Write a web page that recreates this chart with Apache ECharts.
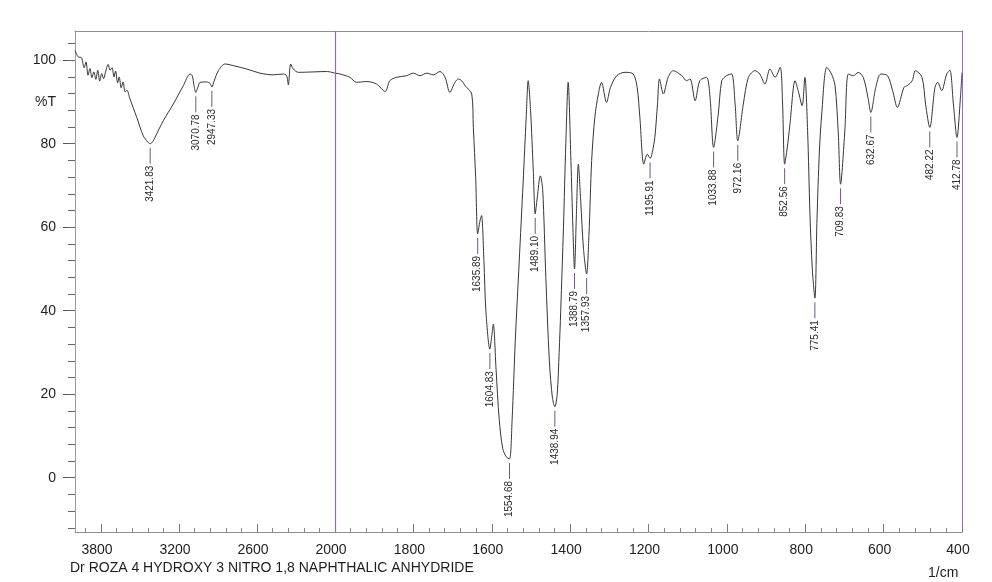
<!DOCTYPE html>
<html>
<head>
<meta charset="utf-8">
<title>IR spectrum</title>
<script src="https://cdn.jsdelivr.net/npm/echarts@6/dist/echarts.min.js"></script>
<style>
  html, body { margin: 0; padding: 0; background: #ffffff; }
  #chart { width: 992px; height: 582px; }
</style>
</head>
<body>
<div id="chart"></div>
<script>
// High wavenumber range (4000-2000 1/cm), compressed scale
const wnHigh = [4000, 3975, 3950, 3930, 3915, 3900, 3885, 3870, 3855, 3840, 3825, 3810, 3795, 3780, 3765, 3745,
  3730, 3715, 3700, 3688, 3672, 3660, 3645, 3630, 3615, 3600, 3580, 3525, 3475, 3440, 3421.83, 3400, 3385,
  3321, 3244, 3167, 3115, 3098, 3085, 3070.78, 3055, 3038, 2987, 2960, 2947.33, 2930, 2897, 2846, 2782, 2679,
  2577, 2475, 2398, 2372, 2359, 2341, 2321, 2282, 2167, 2064, 2000];
const tHigh = [102.3, 100.8, 100.6, 98.2, 99.6, 96.4, 98.0, 95.8, 97.2, 95.4, 97.6, 95.0, 96.8, 95.6, 97.2, 99.0,
  97.6, 98.2, 96.0, 97.4, 94.6, 96.0, 93.4, 94.8, 92.4, 92.8, 91.0, 86.3, 81.9, 80.4, 80.0, 80.6, 81.5,
  85.5, 89.5, 93.9, 96.7, 96.3, 94.0, 92.3, 93.5, 94.7, 94.8, 94.4, 93.6, 95.0, 97.5, 99.1, 98.7, 97.9,
  96.9, 96.5, 96.7, 96.3, 94.1, 99.1, 97.9, 97.1, 97.2, 97.3, 96.9];

// Fingerprint range (2000-400 1/cm), expanded scale
const wnLow = [2000, 1987, 1962, 1945, 1919, 1894, 1872, 1860, 1843, 1817, 1800, 1783, 1766, 1749, 1732, 1719,
  1707, 1694, 1685, 1677, 1668, 1651, 1647, 1641, 1635.89, 1630, 1626, 1620, 1615, 1604.83, 1600, 1596, 1589,
  1581, 1572, 1563, 1554.68, 1548, 1540, 1530, 1520, 1512, 1507, 1501, 1494, 1489.10, 1484, 1476, 1470, 1462,
  1453, 1445, 1438.94, 1433, 1428, 1424, 1417, 1411, 1405, 1398, 1393, 1388.79, 1384, 1379, 1373, 1366,
  1357.93, 1352, 1345, 1337, 1328, 1320, 1307, 1297, 1281, 1260, 1239, 1229, 1222, 1212, 1203, 1195.91, 1188,
  1183, 1177, 1172, 1162, 1150, 1137, 1115, 1103, 1094, 1081, 1069, 1052, 1043, 1033.88, 1022, 1013, 1001,
  988, 979, 972.16, 958, 945, 928, 916, 903, 890, 877, 864, 858, 852.56, 846, 839, 826, 818, 808, 801, 794,
  788, 782, 775.41, 770, 764, 758, 745, 733, 724, 716, 709.83, 699, 690, 677, 665, 652, 640, 632.67, 620, 607,
  590, 577, 565, 548, 540, 527, 519, 502, 493, 482.22, 469, 462, 452, 439, 431, 422, 412.78, 404, 400];
const tLow = [96.9, 96.7, 95.9, 94.7, 94.9, 94.3, 92.5, 95.1, 95.9, 96.3, 96.9, 96.3, 96.9, 96.5, 97.3, 95.9,
  92.3, 94.7, 95.5, 95.1, 93.9, 91.9, 83.9, 71.9, 58.4, 61.5, 62.8, 52.0, 40.0, 30.8, 34.0, 36.8, 26.0,
  14.0, 7.0, 5.0, 4.5, 14.0, 32.7, 51.7, 70.6, 86.5, 95.1, 88.0, 73.5, 63.2, 67.0, 72.3, 69.0, 48.0,
  28.0, 19.0, 17.0, 20.0, 30.0, 40.0, 60.0, 80.0, 94.7, 76.0, 60.0, 50.0, 63.0, 75.1, 66.3, 55.0,
  48.8, 58.0, 76.0, 86.3, 91.9, 94.7, 89.9, 93.5, 96.3, 97.1, 96.7, 93.5, 86.3, 75.1, 77.5, 76.5, 79.0,
  82.3, 89.5, 95.5, 91.9, 95.9, 97.5, 96.3, 95.1, 95.5, 90.3, 95.1, 95.9, 91.1, 79.1, 87.1, 95.1, 96.3,
  96.7, 89.5, 80.7, 89.5, 95.9, 97.5, 96.7, 94.3, 97.9, 95.9, 98.3, 90.0, 75.1, 79.0, 84.7, 95.1, 92.7, 89.1, 95.9, 83.1,
  63.2, 50.0, 43.0, 62.0, 78.0, 87.1, 98.3, 96.7, 93.9, 83.1, 70.3, 83.1, 96.7, 96.3, 97.1, 95.9, 91.1, 87.5, 93.5, 96.7,
  96.3, 92.7, 88.7, 93.5, 93.9, 95.1, 97.5, 95.9, 89.5, 83.9, 93.5, 94.7, 92.7, 96.7, 97.6, 89.5, 81.5, 91.1, 97.0];

// Picked absorption bands
const peakWn = [3421.83, 3070.78, 2947.33, 1635.89, 1604.83, 1554.68, 1489.10, 1438.94, 1388.79, 1357.93,
  1195.91, 1033.88, 972.16, 852.56, 775.41, 709.83, 632.67, 482.22, 412.78];
const peakT = [80.0, 92.3, 93.6, 58.4, 30.8, 4.5, 63.2, 17.0, 50.0, 48.8,
  76.5, 79.1, 80.7, 75.1, 43.0, 70.3, 87.5, 83.9, 81.5];

// Axis labels
const highRangeLabels = [3800, 3200, 2600];
const lowRangeLabels = [2000, 1800, 1600, 1400, 1200, 1000, 800, 600, 400];
const transmittanceLabels = [0, 20, 40, 60, 80, 100];

const FONT = '"Liberation Sans", Arial, sans-serif';
const T_MIN = -13, T_MAX = 107;
const SCALE_BREAK = 2000;

function stepValues(from, to, step) {
  const out = [];
  for (let v = from; v <= to + 1e-9; v += step) out.push(+v.toFixed(6));
  return out;
}
const highMinorTicks = stepValues(2000, 4000, 120);
const lowMinorTicks = stepValues(400, 2000, 40);
const tMinorTicks = stepValues(-12, 104, 4);

const zip = (a, b) => a.map((v, i) => [v, b[i]]);
const highPeaks = [], lowPeaks = [];
peakWn.forEach((w, i) => (w >= 2000 ? highPeaks : lowPeaks).push([w, peakT[i]]));

function renderPeakLabel(params, api) {
  const wn = api.value(0);
  const p = api.coord([wn, api.value(1)]);
  return {
    type: 'group',
    children: [
      { type: 'line', shape: { x1: p[0], y1: p[1] + 4, x2: p[0], y2: p[1] + 20 },
        style: { stroke: '#6d5a80', lineWidth: 1 } },
      { type: 'text', x: p[0], y: p[1] + 22, rotation: Math.PI / 2,
        style: { text: wn.toFixed(2), fill: '#2b2b2b', font: '10px ' + FONT,
                 align: 'right', verticalAlign: 'middle' } }
    ]
  };
}

// Wavenumber axis builder: a bottom axis carrying ticks/labels, or a bare top frame line
function wnAxis(gridIndex, min, max, opts) {
  return Object.assign({
    gridIndex, type: 'value', min, max, inverse: true, position: 'bottom',
    axisLine: { show: false, onZero: false },
    axisTick: { show: false },
    axisLabel: { show: false },
    splitLine: { show: false }
  }, opts);
}
const tickLabelStyle = { margin: 11, fontFamily: FONT, fontSize: 14, color: '#1e1e1e',
                         padding: [0, 8, 0, 0], formatter: v => String(v) };
const frameLine = { show: true, onZero: false, lineStyle: { color: '#8e8e8e' } };

function tAxis(gridIndex, position, opts) {
  return Object.assign({
    gridIndex, type: 'value', min: T_MIN, max: T_MAX, position,
    axisLine: { show: false, onZero: false },
    axisTick: { show: false }, axisLabel: { show: false }, splitLine: { show: false }
  }, opts);
}

const spectrumLine = { color: '#363636', width: 1 };
const chart = echarts.init(document.getElementById('chart'), null, { renderer: 'canvas' });

chart.setOption({
  animation: false,
  backgroundColor: '#ffffff',
  title: {
    text: 'Dr ROZA 4 HYDROXY 3 NITRO 1,8 NAPHTHALIC ANHYDRIDE',
    left: 70, top: 561, padding: 0,
    textStyle: { fontFamily: FONT, fontSize: 14, fontWeight: 'normal', color: '#1e1e1e' }
  },
  graphic: [{
    type: 'text', left: 928, top: 566,
    style: { text: '1/cm', font: '14px ' + FONT, fill: '#1e1e1e' }
  }],
  grid: [
    { left: 75, top: 31, width: 260, height: 501 },
    { left: 335, top: 31, width: 627, height: 501 }
  ],
  xAxis: [
    wnAxis(0, 2000, 4000, {
      axisLine: frameLine,
      axisTick: { show: true, inside: true, length: 4, customValues: highMinorTicks, lineStyle: { color: '#8a8a8a' } } }),
    wnAxis(0, 2000, 4000, {
      axisTick: { show: true, inside: true, length: 8, customValues: highRangeLabels, lineStyle: { color: '#777' } },
      axisLabel: Object.assign({ customValues: highRangeLabels }, tickLabelStyle) }),
    wnAxis(0, 2000, 4000, { position: 'top', axisLine: frameLine }),
    wnAxis(1, 400, 2000, {
      axisLine: frameLine,
      axisTick: { show: true, inside: true, length: 4, customValues: lowMinorTicks, lineStyle: { color: '#8a8a8a' } } }),
    wnAxis(1, 400, 2000, {
      axisTick: { show: true, inside: true, length: 8, customValues: lowRangeLabels, lineStyle: { color: '#777' } },
      axisLabel: Object.assign({ customValues: lowRangeLabels }, tickLabelStyle) }),
    wnAxis(1, 400, 2000, { position: 'top', axisLine: frameLine })
  ],
  yAxis: [
    tAxis(0, 'left', {
      axisLine: { show: true, onZero: false, lineStyle: { color: '#a68cc4' } },
      axisTick: { show: true, length: 12, customValues: transmittanceLabels, lineStyle: { color: '#555' } },
      axisLabel: { customValues: transmittanceLabels.concat([90]), margin: 19, fontFamily: FONT, fontSize: 14,
                   color: '#1e1e1e', formatter: v => (v === 90 ? '%T' : String(v)) } }),
    tAxis(0, 'left', {
      axisTick: { show: true, length: 7, customValues: tMinorTicks, lineStyle: { color: '#666' } } }),
    tAxis(1, 'left'),
    tAxis(1, 'right', { axisLine: { show: true, onZero: false, lineStyle: { color: '#8d74c6' } } })
  ],
  series: [
    { type: 'line', xAxisIndex: 0, yAxisIndex: 0, data: zip(wnHigh, tHigh),
      showSymbol: false, smooth: 0.3, lineStyle: spectrumLine, silent: true },
    { type: 'line', xAxisIndex: 3, yAxisIndex: 2, data: zip(wnLow, tLow),
      showSymbol: false, smooth: 0.3, lineStyle: spectrumLine, silent: true,
      // separator where the wavenumber scale changes
      markLine: {
        silent: true, symbol: 'none', label: { show: false },
        lineStyle: { color: '#cc48d4', type: 'solid', width: 1.2 },
        data: [{ xAxis: SCALE_BREAK }]
      } },
    { type: 'custom', xAxisIndex: 0, yAxisIndex: 0, data: highPeaks, renderItem: renderPeakLabel, silent: true },
    { type: 'custom', xAxisIndex: 3, yAxisIndex: 2, data: lowPeaks, renderItem: renderPeakLabel, silent: true }
  ]
});
</script>
</body>
</html>
